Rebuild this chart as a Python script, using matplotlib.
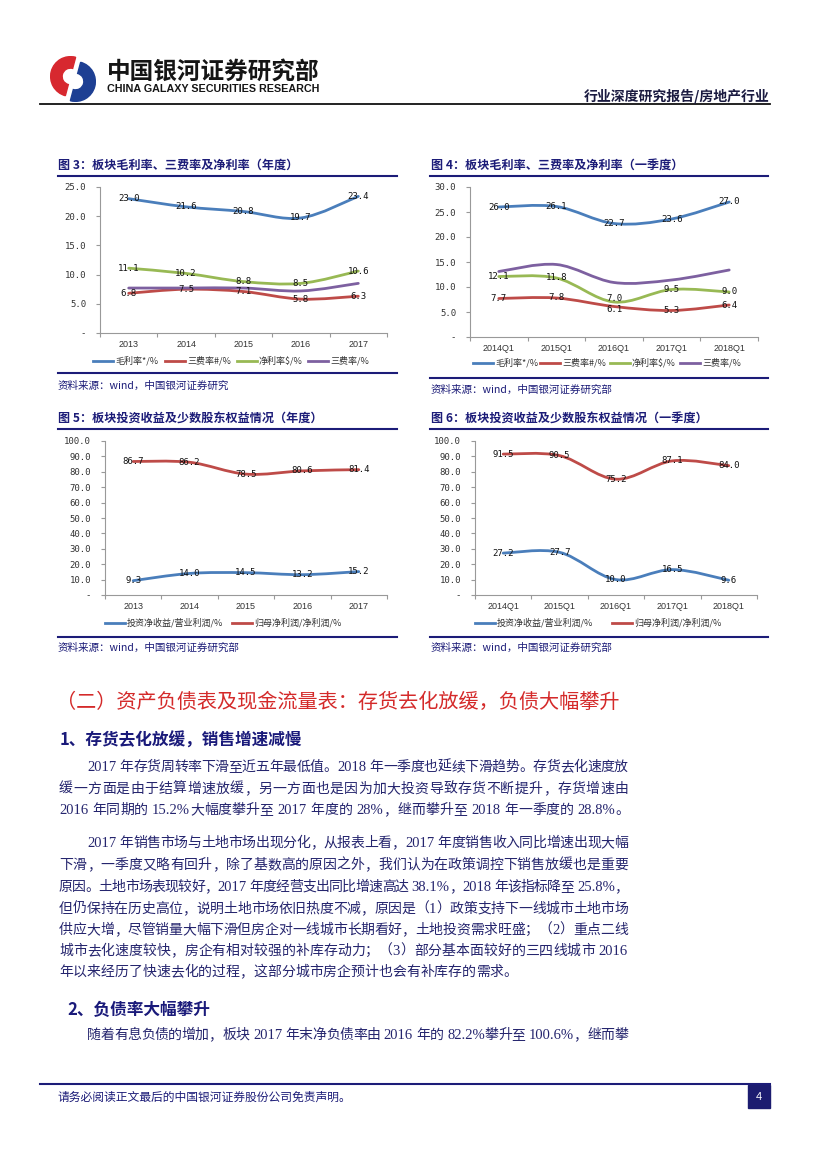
import re
import numpy as np
import matplotlib
matplotlib.use('Agg')
import matplotlib.pyplot as plt
from matplotlib.path import Path
from matplotlib.patches import PathPatch, Rectangle, Wedge
from matplotlib.lines import Line2D

W, H = 827, 1169
CJK = 'Noto Sans CJK SC'
NAVY = '#1c1c78'
TXT = '#25256e'

# ---- data ----
years = ['2013', '2014', '2015', '2016', '2017']
quarters = ['2014Q1', '2015Q1', '2016Q1', '2017Q1', '2018Q1']

gross_y = [23.0, 21.6, 20.8, 19.7, 23.4]
fee1_y = [6.8, 7.5, 7.1, 5.8, 6.3]
net_y = [11.1, 10.2, 8.8, 8.5, 10.6]
fee2_y = [7.7, 7.7, 7.7, 7.2, 8.5]

gross_q = [26.0, 26.1, 22.7, 23.6, 27.0]
fee1_q = [7.7, 7.8, 6.1, 5.3, 6.4]
net_q = [12.1, 11.8, 7.0, 9.5, 9.0]
fee2_q = [13.1, 14.5, 10.9, 11.4, 13.4]

inv_y = [9.3, 14.0, 14.5, 13.2, 15.2]
parent_y = [86.7, 86.2, 78.5, 80.6, 81.4]
inv_q = [27.2, 27.7, 10.0, 16.5, 9.6]
parent_q = [91.5, 90.5, 75.2, 87.1, 84.0]

names_a = ['毛利率*/%', '三费率#/%', '净利率$/%', '三费率/%']
names_b = ['投资净收益/营业利润/%', '归母净利润/净利润/%']
colors_a = ['#4a7ebb', '#be4b48', '#98b954', '#7d60a0']
colors_b = ['#4a7ebb', '#be4b48']

fig = plt.figure(figsize=(W / 100, H / 100), dpi=100)
rend = fig.canvas.get_renderer()


def fx(x):
    return x / W


def fy(y):
    return 1 - y / H


def hline(x0, x1, y, color=NAVY, lw=1.5):
    fig.add_artist(Line2D([fx(x0), fx(x1)], [fy(y), fy(y)], color=color, lw=lw,
                          transform=fig.transFigure))


def txt(x, y, s, **kw):
    kw.setdefault('va', 'center')
    return fig.text(fx(x), fy(y), s, **kw)


def smooth(xs, ys):
    # excel-like smoothed line, bezier through the data points
    pts = np.column_stack([xs, ys]).astype(float)
    n = len(pts)
    verts = [pts[0]]
    codes = [Path.MOVETO]
    for i in range(n - 1):
        p0 = pts[max(i - 1, 0)]
        p1 = pts[i]
        p2 = pts[i + 1]
        p3 = pts[min(i + 2, n - 1)]
        verts += [p1 + (p2 - p0) / 6, p2 - (p3 - p1) / 6, p2]
        codes += [Path.CURVE4] * 3
    return Path(verts, codes)


def chart(box, cats, series, colors, labelled, ymax, ystep, names, leg_x, leg_y, nudge=None):
    l, t, r, b = box
    ax = fig.add_axes([fx(l), fy(b), (r - l) / W, (b - t) / H])
    x = np.arange(len(cats))
    ax.set_xlim(-0.5, len(cats) - 0.5)
    ax.set_ylim(0, ymax)
    nudge = nudge or {}
    for k, (vals, c, lab) in enumerate(zip(series, colors, labelled)):
        ax.add_patch(PathPatch(smooth(x, vals), fill=False, ec=c, lw=2.0,
                               capstyle='round', joinstyle='round', zorder=2))
        if lab:
            for xi, v in zip(x, vals):
                ax.annotate(f'{v:.1f}', (xi, v), xytext=(0, nudge.get((k, xi), 0)),
                            textcoords='offset points', ha='center', va='center',
                            fontsize=6.5, family='DejaVu Sans Mono', color='#111111',
                            zorder=3)
    yt = np.arange(0, ymax + 0.01, ystep)
    ax.set_yticks(yt)
    ax.set_yticklabels(['-'] + [f'{v:.1f}' for v in yt[1:]], family='DejaVu Sans Mono',
                       fontsize=6.5, color='#333333')
    ax.set_xticks(x)
    ax.set_xticklabels(cats, fontsize=6.5, family='Liberation Sans', color='#333333')
    ax.set_xticks(np.arange(-0.5, len(cats)), minor=True)
    ax.tick_params(axis='x', which='major', length=0, pad=5)
    ax.tick_params(axis='x', which='minor', length=3, color='#999999', width=0.8)
    ax.tick_params(axis='y', length=3, color='#999999', width=0.8, pad=7)
    for s in ['top', 'right']:
        ax.spines[s].set_visible(False)
    for s in ['left', 'bottom']:
        ax.spines[s].set_color('#999999')
        ax.spines[s].set_linewidth(0.8)
    # legend under the plot
    for nm, c, lx in zip(names, colors, leg_x):
        fig.add_artist(Line2D([fx(lx), fx(lx + 20)], [fy(leg_y), fy(leg_y)], color=c, lw=2.0,
                              transform=fig.transFigure))
        txt(lx + 22, leg_y, nm, fontsize=6.5, family=CJK, color='#333333')
    return ax


def fit(x, y, s, width, size, **kw):
    t = txt(x, y, s, fontsize=size, **kw)
    w = t.get_window_extent(rend).width
    t.set_fontsize(size * width / w)
    return t


def line(x0, y, s, x1=None, size=10, color=TXT):
    toks = re.findall(r'[0-9A-Za-z.%]+| +|.', s)
    em = size * 100 / 72
    objs, widths = [], []
    for tk in toks:
        if tk.isspace():
            objs.append(None)
            widths.append(0.3 * em)
            continue
        if tk.isascii():
            t = fig.text(0, fy(y + 0.36 * em), tk, fontsize=size * 1.05,
                         family='Liberation Serif', color=color, va='baseline')
            widths.append(t.get_window_extent(rend).width)
        else:
            t = fig.text(0, fy(y + 0.36 * em), tk, fontsize=size, family=CJK,
                         color=color, va='baseline')
            widths.append(em)
        objs.append(t)
    gap = 0
    if x1 is not None and len(toks) > 1:
        gap = (x1 - x0 - sum(widths)) / (len(toks) - 1)
    x = x0
    for t, w in zip(objs, widths):
        if t is not None:
            t.set_x(fx(x))
        x += w + gap


# ---- header ----
lax = fig.add_axes([fx(45), fy(102), 56 / W, 46 / H])
lax.set_xlim(-1.1, 1.1)
lax.set_ylim(-1.1, 1.1)
lax.set_aspect('equal')
lax.axis('off')
lax.add_patch(Wedge((-0.12, 0.12), 0.95, 75, 255, width=0.55, color='#d7282f'))
lax.add_patch(Wedge((0.12, -0.12), 0.95, -105, 75, width=0.55, color='#1d3f93'))
fit(107, 72, '中国银河证券研究部', 213, 17, family=CJK, weight='bold', color='#151515')
fit(107, 89, 'CHINA GALAXY SECURITIES RESEARCH', 213, 7, family='Liberation Sans',
    weight='bold', color='#151515')
txt(770, 96, '行业深度研究报告/房地产行业', fontsize=10, family=CJK, weight='bold',
    color='#1a1a40', ha='right')
hline(40, 770, 104, color='#111111', lw=1.3)

# ---- charts ----
ttl = dict(fontsize=8.7, family=CJK, weight='bold', color=NAVY)
src = dict(fontsize=7.6, family=CJK, color=NAVY)

txt(58, 165, '图 3：板块毛利率、三费率及净利率（年度）', **ttl)
hline(58, 397, 176)
chart((100, 187, 387, 333), years, [gross_y, fee1_y, net_y, fee2_y], colors_a,
      [True, True, True, False], 25, 5, names_a, [93, 165, 237, 308], 361)
hline(58, 397, 373)
txt(58, 386, '资料来源：wind，中国银河证券研究', **src)

txt(431, 165, '图 4：板块毛利率、三费率及净利率（一季度）', **ttl)
hline(430, 768, 176)
chart((470, 187, 758, 337), quarters, [gross_q, fee1_q, net_q, fee2_q], colors_a,
      [True, True, True, False], 30, 5, names_a, [473, 540, 610, 680], 363,
      nudge={(2, 2): 2.5, (1, 2): -2.5})
hline(430, 768, 378)
txt(431, 390, '资料来源：wind，中国银河证券研究部', **src)

txt(58, 418, '图 5：板块投资收益及少数股东权益情况（年度）', **ttl)
hline(58, 397, 429)
chart((105, 441, 387, 595), years, [inv_y, parent_y], colors_b, [True, True],
      100, 10, names_b, [105, 232], 623)
hline(58, 397, 637)
txt(58, 648, '资料来源：wind，中国银河证券研究部', **src)

txt(431, 418, '图 6：板块投资收益及少数股东权益情况（一季度）', **ttl)
hline(430, 768, 429)
chart((475, 441, 757, 595), quarters, [inv_q, parent_q], colors_b, [True, True],
      100, 10, names_b, [475, 612], 623)
hline(430, 768, 637)
txt(431, 648, '资料来源：wind，中国银河证券研究部', **src)

# ---- body text ----
txt(56, 702, '（二）资产负债表及现金流量表：存货去化放缓，负债大幅攀升', fontsize=14.5,
    family=CJK, color='#d42a2a')
txt(60, 741, '1、存货去化放缓，销售增速减慢', fontsize=12, family=CJK, weight='bold',
    color='#1a1a7a')

R = 628
line(87, 766, '2017 年存货周转率下滑至近五年最低值。2018 年一季度也延续下滑趋势。存货去化速度放', R)
line(59, 788, '缓一方面是由于结算增速放缓，另一方面也是因为加大投资导致存货不断提升，存货增速由', R)
line(59, 809, '2016 年同期的 15.2%大幅度攀升至 2017 年度的 28%，继而攀升至 2018 年一季度的 28.8%。')
line(87, 842, '2017 年销售市场与土地市场出现分化，从报表上看，2017 年度销售收入同比增速出现大幅', R)
line(59, 864, '下滑，一季度又略有回升，除了基数高的原因之外，我们认为在政策调控下销售放缓也是重要', R)
line(59, 886, '原因。土地市场表现较好，2017 年度经营支出同比增速高达 38.1%，2018 年该指标降至 25.8%，', R)
line(59, 908, '但仍保持在历史高位，说明土地市场依旧热度不减，原因是（1）政策支持下一线城市土地市场', R)
line(59, 929, '供应大增，尽管销量大幅下滑但房企对一线城市长期看好，土地投资需求旺盛；（2）重点二线', R)
line(59, 950, '城市去化速度较快，房企有相对较强的补库存动力；（3）部分基本面较好的三四线城市 2016', R)
line(59, 971, '年以来经历了快速去化的过程，这部分城市房企预计也会有补库存的需求。')

txt(67, 1010, '2、负债率大幅攀升', fontsize=12, family=CJK, weight='bold', color='#1a1a7a')
line(87, 1034, '随着有息负债的增加，板块 2017 年末净负债率由 2016 年的 82.2%攀升至 100.6%，继而攀', R)

# ---- footer ----
hline(40, 770, 1084, color=NAVY, lw=1.5)
txt(58, 1097, '请务必阅读正文最后的中国银河证券股份公司免责声明。', fontsize=8.5, family=CJK,
    color=NAVY)
fig.add_artist(Rectangle((fx(748), fy(1108)), 22 / W, 23 / H, transform=fig.transFigure,
                         color='#1c1c70'))
txt(759, 1097, '4', fontsize=8, family='Liberation Sans', color='white', ha='center')

fig.savefig('out.png', dpi=100)
